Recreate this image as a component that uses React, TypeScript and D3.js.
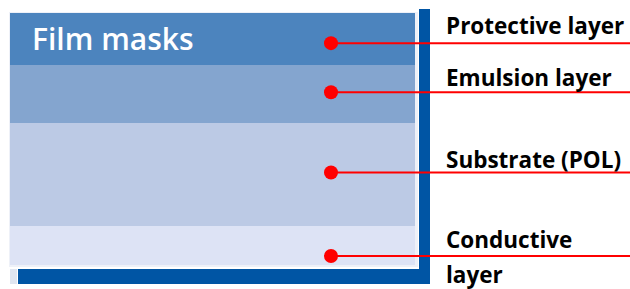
import React, { useEffect, useRef } from 'react'
import * as d3 from 'd3'

// layer stack, top to bottom
const layerNames = ['Protective layer', 'Emulsion layer', 'Substrate (POL)', 'Conductive layer']
const layerThickness = [52, 58, 103, 39]
const layerColors = ['#4c84be', '#84a5cf', '#bccae5', '#dde3f5']
const labelLines = [['Protective layer'], ['Emulsion layer'], ['Substrate (POL)'], ['Conductive', 'layer']]
const labelBaselines = [34, 86, 168, 248]
const dotPos = [0.58, 0.47, 0.48, 0.77]
const title = 'Film masks'

export default function App() {
    const ref = useRef<HTMLDivElement>(null)

    useEffect(() => {
        const box = d3.select(ref.current)
        box.selectAll('*').remove()

        const svg = box.append('svg')
            .attr('width', 630)
            .attr('height', 289)
            .style('position', 'absolute')
            .style('left', 0)
            .style('top', 0)

        const total = d3.sum(layerThickness)
        const y = d3.scaleLinear().domain([0, total]).range([13, 265])
        const starts = d3.cumsum([0, ...layerThickness])
        const x0 = 10, x1 = 415

        // light frame behind layers
        svg.append('rect').attr('x', x0 - 1).attr('y', 12).attr('width', x1 - x0 + 4)
            .attr('height', 255).attr('fill', '#eef1f8')

        layerThickness.forEach((t, i) => {
            svg.append('rect')
                .attr('x', x0)
                .attr('y', y(starts[i]))
                .attr('width', x1 - x0)
                .attr('height', y(starts[i] + t) - y(starts[i]))
                .attr('fill', layerColors[i])
                .attr('data-name', layerNames[i])
        })

        // blue frame (right and bottom)
        svg.append('rect').attr('x', 419).attr('y', 9).attr('width', 11).attr('height', 275).attr('fill', '#0055a4')
        svg.append('rect').attr('x', 18).attr('y', 269).attr('width', 412).attr('height', 15).attr('fill', '#0055a4')
        svg.append('rect').attr('x', 10).attr('y', 269).attr('width', 7).attr('height', 15).attr('fill', '#dfe5f0')

        svg.append('text')
            .attr('x', 32).attr('y', 50)
            .attr('fill', 'white')
            .style('font', '600 30px "Open Sans"')
            .text(title)

        layerThickness.forEach((t, i) => {
            const cy = y(starts[i] + t * dotPos[i])
            svg.append('line')
                .attr('x1', 331).attr('x2', 630)
                .attr('y1', cy).attr('y2', cy)
                .attr('stroke', '#ff0000').attr('stroke-width', 2)
            svg.append('circle')
                .attr('cx', 331).attr('cy', cy).attr('r', 7)
                .attr('fill', '#ff0000')
            labelLines[i].forEach((s, k) => {
                svg.append('text')
                    .attr('x', 446)
                    .attr('y', labelBaselines[i] + k * 35)
                    .style('font', 'bold 22.5px "Open Sans"')
                    .attr('fill', '#000')
                    .text(s)
            })
        })
    }, [])

    return <div ref={ref} />
}
